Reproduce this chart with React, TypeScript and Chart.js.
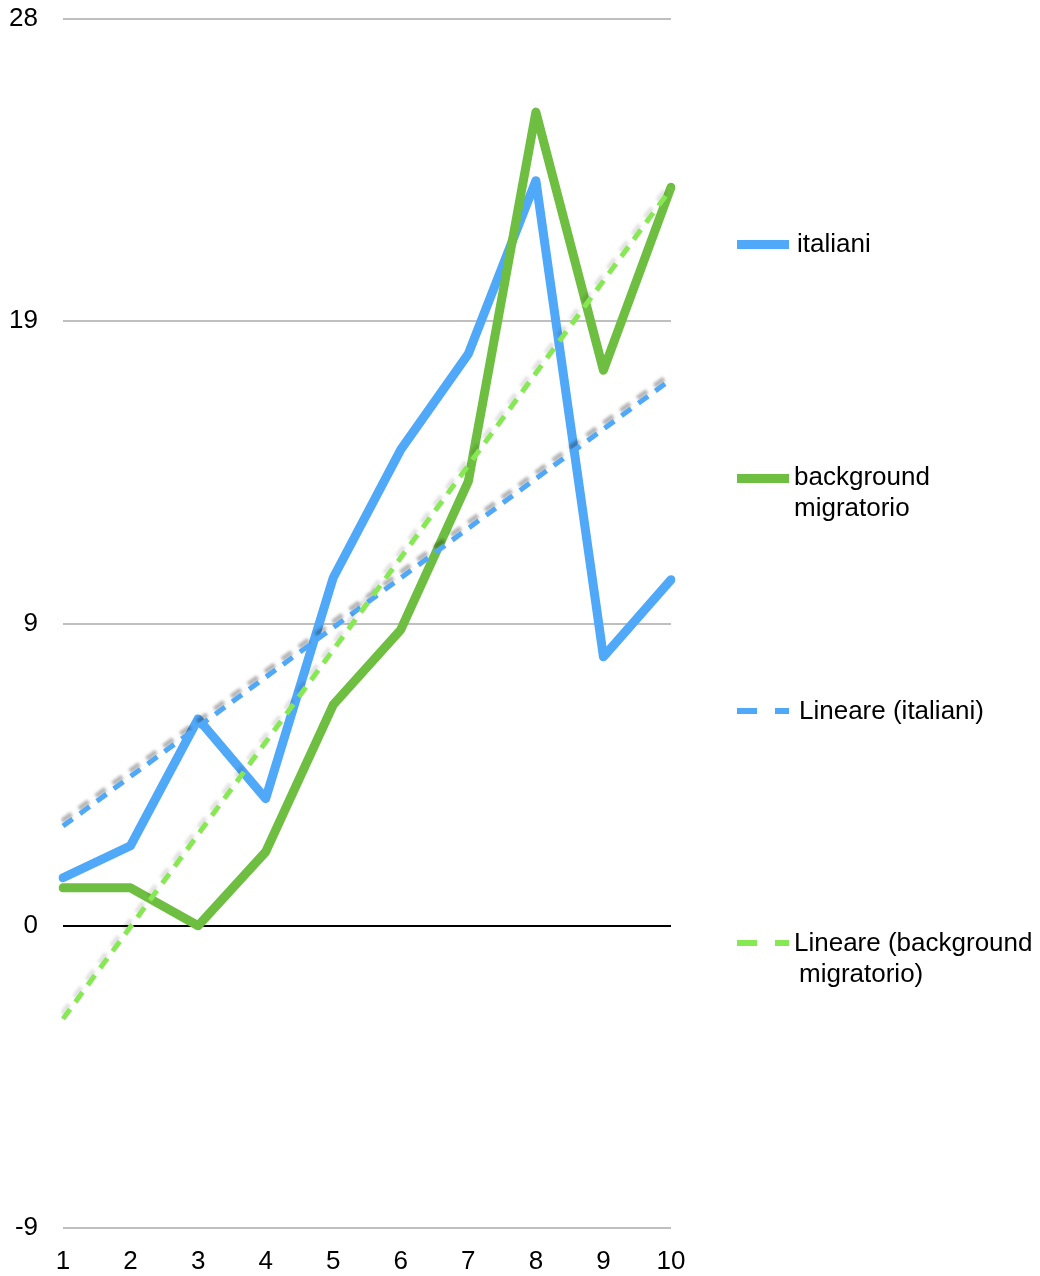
import React, { useEffect, useRef } from "react";
import { Chart, registerables } from "chart.js";

Chart.register(...registerables);

const categories = ["1", "2", "3", "4", "5", "6", "7", "8", "9", "10"];
const italiani = [1.47, 2.45, 6.33, 3.89, 10.65, 14.57, 17.5, 22.8, 8.23, 10.59];
const background = [1.16, 1.16, 0, 2.26, 6.76, 9.06, 13.6, 24.9, 17.0, 22.6];
const trendItaliani = [3.05, null, null, null, null, null, null, null, null, 16.72];
const trendBackground = [-2.85, null, null, null, null, null, null, null, null, 22.56];
const yTicks = [-9.25, 0, 9.25, 18.5, 27.75];

const BLUE = "rgb(80,168,248)";
const GREEN = "rgb(110,190,66)";
const LGREEN = "rgb(134,232,82)";
const FONT = "'Liberation Sans', Arial, sans-serif";

const shadowPlugin = {
  id: "trendShadow",
  beforeDatasetDraw(chart: any, args: any) {
    const ds = chart.data.datasets[args.index];
    if (!ds.shadow) return;
    const ctx = chart.ctx;
    ctx.save();
    ctx.shadowColor = ds.shadow;
    ctx.shadowOffsetX = -1;
    ctx.shadowOffsetY = -5;
    ctx.shadowBlur = 3;
  },
  afterDatasetDraw(chart: any, args: any) {
    const ds = chart.data.datasets[args.index];
    if (!ds.shadow) return;
    chart.ctx.restore();
  },
};

export default function App() {
  const ref = useRef<HTMLCanvasElement | null>(null);
  useEffect(() => {
    document.body.style.margin = "0";
    if (!ref.current) return;
    const chart = new Chart(ref.current, {
      type: "line",
      data: {
        labels: categories,
        datasets: [
          {
            label: "italiani",
            data: italiani,
            borderColor: BLUE,
            borderWidth: 9,
            pointRadius: 0,
            borderJoinStyle: "round",
            borderCapStyle: "round",
            tension: 0,
            order: 4,
          },
          {
            label: "background migratorio",
            data: background,
            borderColor: GREEN,
            borderWidth: 9,
            pointRadius: 0,
            borderJoinStyle: "round",
            borderCapStyle: "round",
            tension: 0,
            order: 3,
          },
          {
            label: "Lineare (italiani)",
            data: trendItaliani,
            borderColor: BLUE,
            borderWidth: 5,
            borderDash: [12, 9],
            pointRadius: 0,
            spanGaps: true,
            order: 2,
            shadow: "rgba(0,0,0,0.3)",
          } as any,
          {
            label: "Lineare (background migratorio)",
            data: trendBackground,
            borderColor: LGREEN,
            borderWidth: 5,
            borderDash: [12, 9],
            pointRadius: 0,
            spanGaps: true,
            order: 1,
            shadow: "rgba(0,0,0,0.12)",
          } as any,
        ],
      },
      options: {
        animation: false,
        responsive: false,
        maintainAspectRatio: false,
        layout: { padding: { left: 0, right: 369, top: 19, bottom: 0 } },
        plugins: { legend: { display: false }, tooltip: { enabled: false } },
        scales: {
          x: {
            offset: false,
            grid: { display: false, drawTicks: false },
            border: { display: false },
            ticks: {
              maxRotation: 0,
              autoSkip: false,
              padding: 18,
              color: "#000",
              font: { family: FONT, size: 26 },
            },
            afterFit(scale: any) {
              scale.height = 48;
              scale.paddingLeft = 0;
              scale.paddingRight = 0;
            },
          },
          y: {
            min: -9.25,
            max: 27.75,
            afterBuildTicks(scale: any) {
              scale.ticks = yTicks.map((v) => ({ value: v }));
            },
            afterFit(scale: any) {
              scale.width = 63;
              scale.paddingTop = 0;
              scale.paddingBottom = 0;
            },
            grid: {
              drawTicks: false,
              lineWidth: 2,
              color: (c: any) => (c.tick && c.tick.value === 0 ? "#000" : "#BFBFBF"),
            },
            border: { display: false },
            ticks: {
              padding: 25,
              color: "#000",
              font: { family: FONT, size: 26 },
              callback: (v: any) => String(Math.round(Number(v))),
            },
          },
        },
      },
      plugins: [shadowPlugin],
    });
    return () => chart.destroy();
  }, []);

  const text: React.CSSProperties = {
    position: "absolute",
    fontFamily: FONT,
    fontSize: 26,
    lineHeight: "31px",
    color: "#000",
    whiteSpace: "pre",
  };
  const bar = (x: number, y: number, w: number, h: number, c: string): React.CSSProperties => ({
    position: "absolute",
    left: x,
    top: y - h / 2,
    width: w,
    height: h,
    background: c,
  });

  return (
    <div style={{ position: "relative", width: 1040, height: 1276 }}>
      <canvas ref={ref} width={1040} height={1276} style={{ display: "block" }} />
      <div style={bar(737, 244, 52, 9, BLUE)} />
      <div style={{ ...text, left: 797, top: 228 }}>italiani</div>

      <div style={bar(737, 478, 52, 9, GREEN)} />
      <div style={{ ...text, left: 794, top: 461 }}>{"background\nmigratorio"}</div>

      <div style={bar(737, 711, 20, 6, BLUE)} />
      <div style={bar(775, 711, 14, 6, BLUE)} />
      <div style={{ ...text, left: 799, top: 695 }}>Lineare (italiani)</div>

      <div style={bar(737, 943, 20, 6, LGREEN)} />
      <div style={bar(775, 943, 14, 6, LGREEN)} />
      <div style={{ ...text, left: 794, top: 927 }}>Lineare (background</div>
      <div style={{ ...text, left: 799, top: 958 }}>migratorio)</div>
    </div>
  );
}
